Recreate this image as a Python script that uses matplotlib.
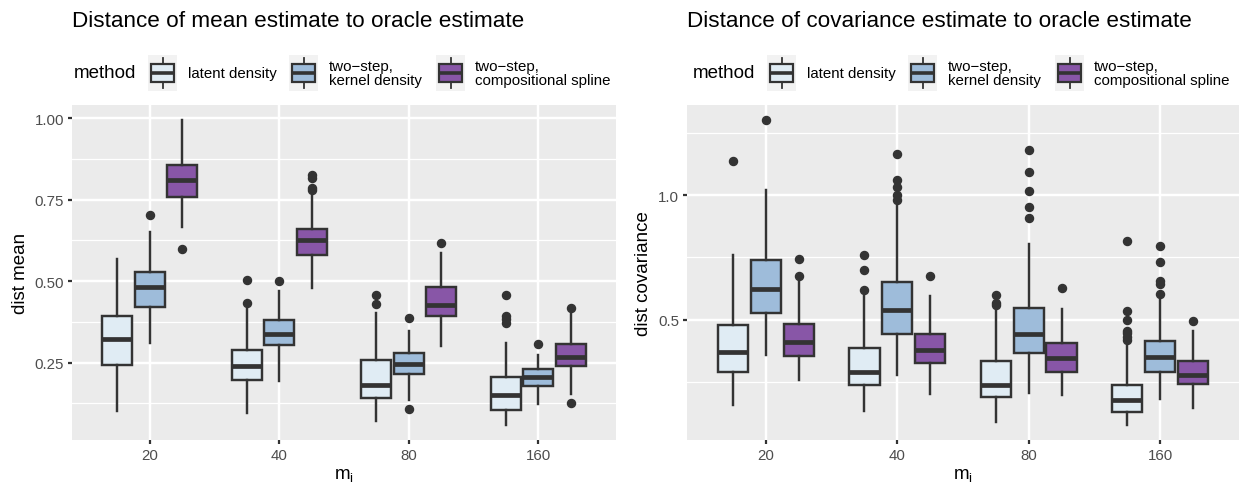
import matplotlib
matplotlib.use("Agg")
import matplotlib.pyplot as plt
from matplotlib.patches import Rectangle

plt.rcParams['font.family'] = ['Liberation Sans', 'DejaVu Sans']

categories = ["20", "40", "80", "160"]
methods = ["latent density", "two\u2212step,\nkernel density", "two\u2212step,\ncompositional spline"]
fills = ["#E0ECF4", "#9EBCDA", "#8856A7"]

# ---------- dist mean (rows = method, cols = m_i) ----------
mean_whislo = [[0.100, 0.095, 0.072, 0.059], [0.311, 0.193, 0.136, 0.123], [0.665, 0.480, 0.300, 0.152]]
mean_q1 = [[0.242, 0.195, 0.141, 0.105], [0.420, 0.304, 0.214, 0.179], [0.757, 0.580, 0.393, 0.239]]
mean_med = [[0.321, 0.239, 0.181, 0.150], [0.481, 0.337, 0.246, 0.206], [0.809, 0.626, 0.426, 0.268]]
mean_q3 = [[0.393, 0.288, 0.257, 0.207], [0.527, 0.381, 0.280, 0.230], [0.858, 0.661, 0.481, 0.306]]
mean_whishi = [[0.567, 0.413, 0.403, 0.310], [0.650, 0.469, 0.347, 0.273], [0.994, 0.761, 0.585, 0.401]]
mean_out = [
    [[], [0.504, 0.434], [0.458, 0.431], [0.457, 0.392, 0.384, 0.371]],
    [[0.704], [0.501], [0.388, 0.106], [0.308]],
    [[0.598], [0.827, 0.817, 0.786, 0.780], [0.617], [0.416, 0.126]],
]

# ---------- dist covariance ----------
cov_whislo = [[0.155, 0.134, 0.090, 0.077], [0.359, 0.278, 0.204, 0.180], [0.258, 0.199, 0.196, 0.144]]
cov_q1 = [[0.289, 0.235, 0.188, 0.130], [0.527, 0.442, 0.364, 0.288], [0.353, 0.325, 0.288, 0.241]]
cov_med = [[0.370, 0.289, 0.237, 0.177], [0.624, 0.540, 0.442, 0.349], [0.410, 0.379, 0.344, 0.277]]
cov_q3 = [[0.480, 0.386, 0.335, 0.238], [0.738, 0.653, 0.547, 0.413], [0.484, 0.442, 0.406, 0.335]]
cov_whishi = [[0.759, 0.594, 0.538, 0.392], [1.022, 0.957, 0.805, 0.587], [0.655, 0.594, 0.543, 0.456]]
cov_out = [
    [[1.138], [0.759, 0.699, 0.621], [0.598, 0.567, 0.558],
     [0.816, 0.535, 0.497, 0.456, 0.446, 0.430, 0.417]],
    [[1.302], [1.167, 1.063, 1.034, 1.001, 0.981], [1.181, 1.093, 1.016, 0.953, 0.910],
     [0.798, 0.733, 0.655, 0.644, 0.605]],
    [[0.743, 0.677], [0.677], [0.628], [0.496]],
]

mean_ticks = [0.25, 0.50, 0.75, 1.00]
mean_ticklabels = ["0.25", "0.50", "0.75", "1.00"]
mean_minor = [0.125, 0.375, 0.625, 0.875]
cov_ticks = [0.5, 1.0]
cov_ticklabels = ["0.5", "1.0"]
cov_minor = [0.25, 0.75, 1.25]

W, H = 1247, 485
EDGE = "#333333"
LW = 1.75

fig = plt.figure(figsize=(W / 100, H / 100), dpi=100)


def draw_panel(rect, whislo, q1, med, q3, whishi, outs, ticks, ticklabels, minor, ylabel):
    ax = fig.add_axes(rect)
    ax.set_facecolor("#EBEBEB")
    for m in range(len(methods)):
        stats = []
        for c in range(len(categories)):
            stats.append(dict(whislo=whislo[m][c], q1=q1[m][c], med=med[m][c],
                              q3=q3[m][c], whishi=whishi[m][c], fliers=outs[m][c]))
        pos = [c + 1 + (m - 1) * 0.25 for c in range(len(categories))]
        ax.bxp(stats, positions=pos, widths=0.23, patch_artist=True, showcaps=False,
               boxprops=dict(facecolor=fills[m], edgecolor=EDGE, linewidth=LW),
               medianprops=dict(color=EDGE, linewidth=3.4, solid_capstyle="butt"),
               whiskerprops=dict(color=EDGE, linewidth=LW),
               flierprops=dict(marker="o", markerfacecolor=EDGE, markeredgecolor=EDGE,
                               markersize=5.8, linestyle="none"),
               zorder=3)
    allv = [v for rows in (whislo, whishi) for r in rows for v in r]
    allv += [v for r in outs for c in r for v in c]
    lo, hi = min(allv), max(allv)
    pad = 0.05 * (hi - lo)
    ax.set_ylim(lo - pad, hi + pad)
    ax.set_xlim(0.4, len(categories) + 0.6)
    ax.set_xticks(range(1, len(categories) + 1))
    ax.set_xticklabels(categories)
    ax.set_yticks(ticks)
    ax.set_yticklabels(ticklabels)
    ax.set_yticks(minor, minor=True)
    ax.grid(True, which="major", color="white", linewidth=1.75, zorder=0)
    ax.grid(True, which="minor", axis="y", color="white", linewidth=0.9, zorder=0)
    ax.set_axisbelow(True)
    for s in ax.spines.values():
        s.set_visible(False)
    ax.tick_params(which="major", length=3.0, width=1.6, color=EDGE, pad=2.8,
                   labelsize=10.8, labelcolor="#4D4D4D")
    ax.tick_params(which="minor", length=0)
    ax.set_xlabel(r"$\mathregular{m_i}$", fontsize=13.5, labelpad=2.5)
    ax.set_ylabel(ylabel, fontsize=13.5, labelpad=4)
    return ax


draw_panel([72 / W, 1 - 441 / H, 544 / W, 335 / H], mean_whislo, mean_q1, mean_med,
           mean_q3, mean_whishi, mean_out, mean_ticks, mean_ticklabels, mean_minor, "dist mean")
draw_panel([687 / W, 1 - 441 / H, 552 / W, 335 / H], cov_whislo, cov_q1, cov_med,
           cov_q3, cov_whishi, cov_out, cov_ticks, cov_ticklabels, cov_minor, "dist covariance")

# overlay in pixel coordinates for titles and legends
ov = fig.add_axes([0, 0, 1, 1])
ov.set_xlim(0, W)
ov.set_ylim(H, 0)
ov.axis("off")
ov.patch.set_alpha(0)

titles = ["Distance of mean estimate to oracle estimate",
          "Distance of covariance estimate to oracle estimate"]
panel_left = [72, 687]
panel_center = [344, 963]

key_off = [-196, -55, 92]
label_off = [-156, -15, 131]
ky0, ky1 = 55.6, 92.2
kw = 29.4
for p in range(2):
    ov.text(panel_left[p], 27, titles[p], fontsize=16.2, va="baseline", ha="left")
    cx = panel_center[p]
    ov.text(cx - 270, 74, "method", fontsize=13.5, va="center", ha="left")
    for m in range(len(methods)):
        x0 = cx + key_off[m]
        kh = ky1 - ky0
        ov.add_patch(Rectangle((x0, ky0), kw, kh, facecolor="#F2F2F2", edgecolor="none"))
        xm = x0 + kw / 2
        ov.plot([xm, xm], [ky0 + 0.1 * kh, ky0 + 0.25 * kh], color=EDGE, lw=1.3)
        ov.plot([xm, xm], [ky0 + 0.75 * kh, ky0 + 0.9 * kh], color=EDGE, lw=1.3)
        ov.add_patch(Rectangle((x0 + 0.1 * kw, ky0 + 0.25 * kh), 0.8 * kw, 0.5 * kh,
                               facecolor=fills[m], edgecolor=EDGE, lw=1.6))
        ov.plot([x0 + 0.1 * kw, x0 + 0.9 * kw], [ky0 + 0.5 * kh] * 2, color=EDGE, lw=2.6,
                solid_capstyle="butt")
        ov.text(cx + label_off[m], 74, methods[m], fontsize=10.8, va="center", ha="left",
                linespacing=0.95)

fig.savefig("out.png", dpi=100)
